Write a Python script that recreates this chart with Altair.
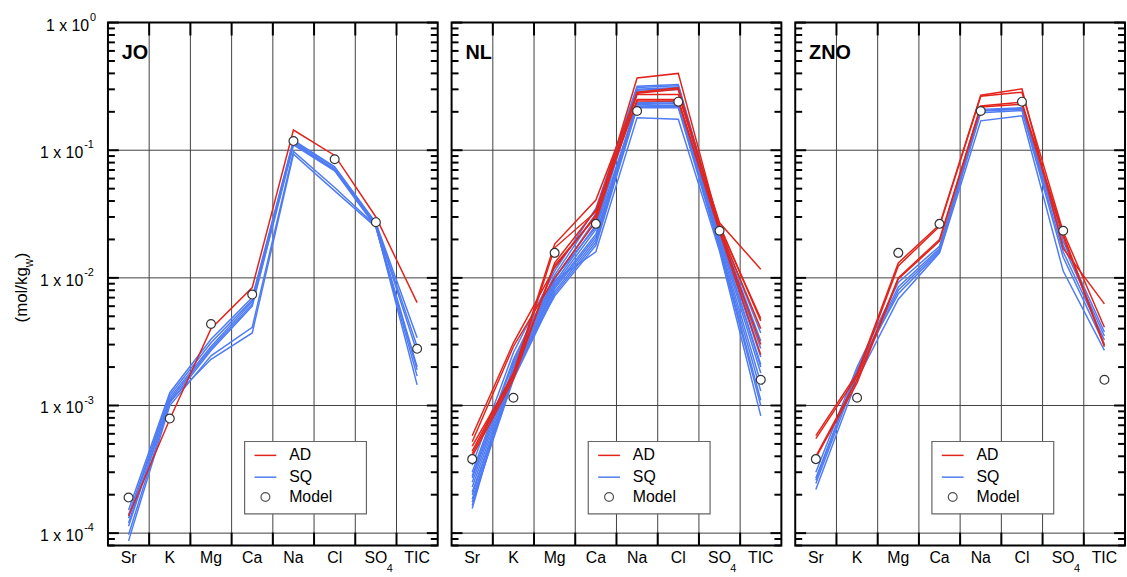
import altair as alt
import pandas as pd

# ---------------- data ----------------
IONS = ["Sr", "K", "Mg", "Ca", "Na", "Cl", "SO4", "TIC"]
ION_LABELS = ["Sr", "K", "Mg", "Ca", "Na", "Cl", "SO", "TIC"]

JO_MODEL = [1.9e-4, 7.9e-4, 4.35e-3, 7.4e-3, 0.118, 0.085, 0.0273, 2.78e-3]
JO_AD = [
    [1.36e-4, 7.8e-4, 4.0e-3, 8.4e-3, 0.144, 0.091, 0.030, 6.4e-3],
]
JO_SQ = [
    [1.52e-4, 1.26e-3, 3.3e-3, 7.0e-3, 0.120, 0.074, 0.0270, 3.4e-3],
    [1.39e-4, 1.20e-3, 3.1e-3, 6.7e-3, 0.117, 0.073, 0.0265, 2.9e-3],
    [1.31e-4, 1.15e-3, 2.9e-3, 6.5e-3, 0.114, 0.071, 0.0260, 2.6e-3],
    [1.13e-4, 1.10e-3, 2.8e-3, 6.2e-3, 0.112, 0.070, 0.0255, 2.0e-3],
    [9.7e-5, 1.05e-3, 2.7e-3, 6.0e-3, 0.110, 0.069, 0.0250, 1.9e-3],
    [8.7e-5, 1.00e-3, 2.45e-3, 4.1e-3, 0.098, 0.051, 0.0255, 1.45e-3],
    [1.20e-4, 1.08e-3, 2.3e-3, 3.7e-3, 0.093, 0.048, 0.0250, 1.7e-3],
]

NL_MODEL = [3.8e-4, 1.15e-3, 0.0157, 0.0265, 0.203, 0.240, 0.0234, 1.59e-3]
NL_AD = [
    [5.8e-4, 3.1e-3, 0.0120, 0.031, 0.368, 0.400, 0.025, 4.8e-3],
    [5.2e-4, 2.9e-3, 0.0100, 0.0277, 0.285, 0.308, 0.024, 4.0e-3],
    [4.4e-4, 1.8e-3, 0.0184, 0.0407, 0.280, 0.300, 0.026, 4.6e-3],
    [4.0e-4, 1.6e-3, 0.0131, 0.034, 0.273, 0.273, 0.027, 0.0117],
    [4.2e-4, 1.7e-3, 0.0172, 0.033, 0.243, 0.243, 0.023, 2.5e-3],
    [4.8e-4, 1.75e-3, 0.0125, 0.030, 0.250, 0.250, 0.0235, 3.0e-3],
]
NL_SQ = [
    [3.4e-4, 2.6e-3, 0.0113, 0.035, 0.317, 0.327, 0.0245, 3.7e-3],
    [3.0e-4, 2.3e-3, 0.0105, 0.032, 0.310, 0.320, 0.0240, 3.2e-3],
    [2.7e-4, 2.0e-3, 0.0098, 0.029, 0.300, 0.310, 0.0230, 2.8e-3],
    [2.5e-4, 1.9e-3, 0.0092, 0.026, 0.295, 0.305, 0.0220, 2.4e-3],
    [2.3e-4, 1.8e-3, 0.0088, 0.024, 0.236, 0.243, 0.0210, 2.1e-3],
    [2.1e-4, 1.7e-3, 0.0085, 0.022, 0.232, 0.236, 0.0200, 1.8e-3],
    [2.0e-4, 1.75e-3, 0.0082, 0.021, 0.228, 0.232, 0.0190, 1.5e-3],
    [1.85e-4, 1.65e-3, 0.0078, 0.020, 0.222, 0.225, 0.0180, 1.3e-3],
    [1.75e-4, 1.6e-3, 0.0075, 0.019, 0.218, 0.222, 0.0175, 1.1e-3],
    [1.65e-4, 1.85e-3, 0.0072, 0.018, 0.215, 0.215, 0.0170, 1.0e-3],
    [1.56e-4, 2.1e-3, 0.0095, 0.016, 0.180, 0.175, 0.0162, 8.3e-4],
    [2.8e-4, 2.2e-3, 0.0100, 0.025, 0.285, 0.300, 0.0215, 2.0e-3],
]

ZNO_MODEL = [3.8e-4, 1.15e-3, 0.0157, 0.0265, 0.203, 0.240, 0.0234, 1.59e-3]
ZNO_AD = [
    [5.8e-4, 1.78e-3, 0.0131, 0.026, 0.270, 0.303, 0.017, 6.25e-3],
    [5.5e-4, 1.7e-3, 0.0124, 0.0253, 0.265, 0.285, 0.023, 4.1e-3],
    [4.0e-4, 1.6e-3, 0.0100, 0.020, 0.222, 0.238, 0.022, 2.97e-3],
    [3.9e-4, 1.5e-3, 0.0098, 0.0194, 0.218, 0.229, 0.021, 2.88e-3],
]
ZNO_SQ = [
    [3.0e-4, 2.0e-3, 9.2e-3, 0.0177, 0.209, 0.215, 0.0194, 3.77e-3],
    [2.7e-4, 1.85e-3, 8.5e-3, 0.0170, 0.205, 0.212, 0.0180, 3.5e-3],
    [2.45e-4, 1.75e-3, 8.0e-3, 0.0165, 0.203, 0.209, 0.0160, 3.25e-3],
    [2.2e-4, 1.6e-3, 6.8e-3, 0.0157, 0.170, 0.186, 0.0113, 2.7e-3],
    [2.6e-4, 1.9e-3, 7.5e-3, 0.0160, 0.197, 0.205, 0.0145, 3.0e-3],
]

DECADES = [1e-4, 1e-3, 1e-2, 1e-1, 1.0]
EXPONENTS = ["-4", "-3", "-2", "-1", "0"]
MINOR = [m * 10.0 ** e for e in range(-5, 0) for m in range(2, 10) if m * 10.0 ** e >= 8e-5]

# ---------------- style ----------------
FONT = "Liberation Sans"
RED = "#e3241b"
BLUE = "#4f7cf3"
GRID = "#404040"
W, H = 333, 528

yscale = alt.Scale(type="log", domain=[8e-5, 1.0], nice=False)
xscale = alt.Scale(type="band", domain=IONS, paddingInner=0, paddingOuter=0)


def X(**kw):
    return alt.X("ion:N", scale=xscale, axis=None, **kw)


def Y():
    return alt.Y("value:Q", scale=yscale, axis=None)


DUMMY = pd.DataFrame({"d": [0]})


def lines_df(runs):
    rows = []
    for r, vals in enumerate(runs):
        for i, (ion, v) in enumerate(zip(IONS, vals)):
            rows.append({"run": r, "ion": ion, "idx": i, "value": v})
    return pd.DataFrame(rows)


def panel(name, ad, sq, model, first):
    layers = []
    # grid
    layers.append(alt.Chart(pd.DataFrame({"value": DECADES[:-1]})).mark_rule(
        color=GRID, strokeWidth=1).encode(y=Y()))
    layers.append(alt.Chart(pd.DataFrame({"ion": IONS[1:]})).mark_rule(
        color=GRID, strokeWidth=1).encode(x=X(bandPosition=0)))
    # legend box
    layers.append(alt.Chart(DUMMY).mark_rect(fill="white", stroke="#666666", strokeWidth=1.2).encode(
        x=alt.value(138), x2=alt.value(261), y=alt.value(423), y2=alt.value(496)))
    # data lines
    layers.append(alt.Chart(lines_df(sq)).mark_line(color=BLUE, strokeWidth=1.5).encode(
        x=X(), y=Y(), detail="run:N", order="idx:Q"))
    layers.append(alt.Chart(lines_df(ad)).mark_line(color=RED, strokeWidth=1.5).encode(
        x=X(), y=Y(), detail="run:N", order="idx:Q"))
    layers.append(alt.Chart(pd.DataFrame({"ion": IONS, "value": model})).mark_point(
        shape="circle", filled=True, fill="white", stroke="#333333", strokeWidth=1.2,
        size=80, opacity=1).encode(x=X(), y=Y()))
    # legend entries
    layers.append(alt.Chart(DUMMY).mark_rule(color=RED, strokeWidth=1.5).encode(
        x=alt.value(148), x2=alt.value(170), y=alt.value(437)))
    layers.append(alt.Chart(DUMMY).mark_rule(color=BLUE, strokeWidth=1.5).encode(
        x=alt.value(148), x2=alt.value(170), y=alt.value(459)))
    layers.append(alt.Chart(DUMMY).mark_point(
        shape="circle", filled=True, fill="white", stroke="#555555", strokeWidth=1.2,
        size=80, opacity=1).encode(x=alt.value(159), y=alt.value(479)))
    leg = pd.DataFrame({"t": ["AD", "SQ", "Model"], "yy": [437, 459, 479]})
    layers.append(alt.Chart(leg).mark_text(font=FONT, fontSize=16, align="left",
                                           baseline="middle", color="black").encode(
        x=alt.value(183), y=alt.Y("yy:Q", scale=None), text="t:N"))
    # y ticks (inside, both sides)
    minor = alt.Chart(pd.DataFrame({"value": MINOR}))
    major = alt.Chart(pd.DataFrame({"value": DECADES}))
    for src, ln in ((minor, 7), (major, 11)):
        layers.append(src.mark_rule(color="black", strokeWidth=2).encode(
            y=Y(), x=alt.value(0), x2=alt.value(ln)))
        layers.append(src.mark_rule(color="black", strokeWidth=2).encode(
            y=Y(), x=alt.value(W - ln), x2=alt.value(W)))
    # x ticks (inside, top and bottom)
    xt = alt.Chart(pd.DataFrame({"ion": IONS[1:]}))
    layers.append(xt.mark_rule(color="black", strokeWidth=2).encode(
        x=X(bandPosition=0), y=alt.value(0), y2=alt.value(13)))
    layers.append(xt.mark_rule(color="black", strokeWidth=2).encode(
        x=X(bandPosition=0), y=alt.value(H - 13), y2=alt.value(H)))
    # panel label
    layers.append(alt.Chart(DUMMY).mark_text(font=FONT, fontSize=20, fontWeight="bold",
                                             align="left", baseline="middle", color="black").encode(
        x=alt.value(14), y=alt.value(31), text=alt.value(name)))
    # x labels
    layers.append(alt.Chart(pd.DataFrame({"ion": IONS, "label": ION_LABELS})).mark_text(
        font=FONT, fontSize=16, align="center", baseline="middle", color="black").encode(
        x=X(), y=alt.value(H + 13), text="label:N"))
    layers.append(alt.Chart(pd.DataFrame({"ion": ["SO4"], "label": ["4"]})).mark_text(
        font=FONT, fontSize=11, align="center", baseline="middle", dx=14, color="black").encode(
        x=X(), y=alt.value(H + 24), text="label:N"))
    if first:
        ylab = pd.DataFrame({"value": DECADES, "exp": EXPONENTS, "base": ["1 x 10"] * 5})
        neg = alt.Chart(ylab[ylab["exp"] != "0"])
        zero = alt.Chart(ylab[ylab["exp"] == "0"])
        for src, xb in ((neg, -25), (zero, -19)):
            layers.append(src.mark_text(font=FONT, fontSize=16, align="right", baseline="middle",
                                        dy=3, color="black").encode(
                y=Y(), x=alt.value(xb), text="base:N"))
            layers.append(src.mark_text(font=FONT, fontSize=11, align="left", baseline="middle",
                                        dy=-5, color="black").encode(
                y=Y(), x=alt.value(xb + 1), text="exp:N"))
        # y title: (mol/kg_w)
        layers.append(alt.Chart(DUMMY).mark_text(font=FONT, fontSize=17, angle=270, align="right",
                                                 baseline="middle", color="black").encode(
            x=alt.value(-87), y=alt.value(247), text=alt.value("(mol/kg")))
        layers.append(alt.Chart(DUMMY).mark_text(font=FONT, fontSize=12, angle=270, align="left",
                                                 baseline="middle", color="black").encode(
            x=alt.value(-80), y=alt.value(247), text=alt.value("w")))
        layers.append(alt.Chart(DUMMY).mark_text(font=FONT, fontSize=17, angle=270, align="left",
                                                 baseline="middle", color="black").encode(
            x=alt.value(-87), y=alt.value(238), text=alt.value(")")))
    return alt.layer(*layers).properties(width=W, height=H)


chart = alt.hconcat(
    panel("JO", JO_AD, JO_SQ, JO_MODEL, True),
    panel("NL", NL_AD, NL_SQ, NL_MODEL, False),
    panel("ZNO", ZNO_AD, ZNO_SQ, ZNO_MODEL, False),
    spacing=10,
).properties(
    padding={"left": 12, "top": 8, "right": 0, "bottom": 0}
).configure_view(stroke="black", strokeWidth=2)

chart.save("out.html", embed_options={"renderer": "svg", "actions": False})
